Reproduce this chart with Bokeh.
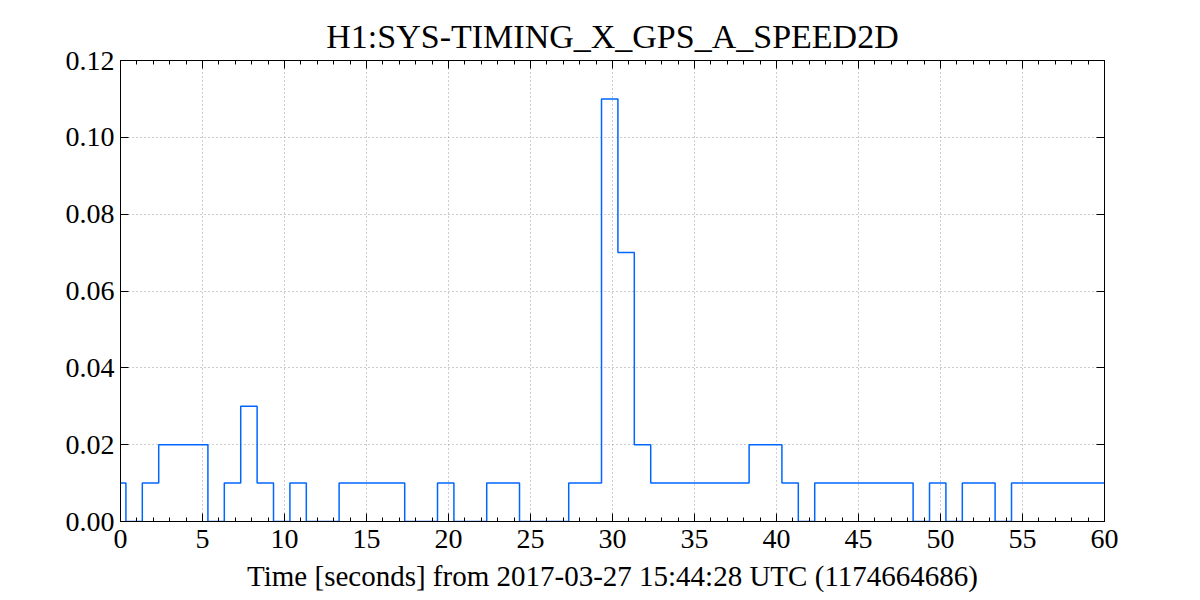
from bokeh.plotting import figure
from bokeh.models import (Range1d, FixedTicker, PrintfTickFormatter, LinearAxis, Title,
                          CustomLabelingPolicy)
from bokeh.embed import file_html
from bokeh.resources import INLINE

# ---- data ----
title_text = "H1:SYS-TIMING_X_GPS_A_SPEED2D"
xlabel_text = "Time [seconds] from 2017-03-27 15:44:28 UTC (1174664686)"
sample_offset = 0.33  # seconds: value changes occur at k + offset
speed = [0.01, 0.00, 0.01, 0.02, 0.02, 0.02, 0.00, 0.01, 0.03, 0.01,
         0.00, 0.01, 0.00, 0.00, 0.01, 0.01, 0.01, 0.01, 0.00, 0.00,
         0.01, 0.00, 0.00, 0.01, 0.01, 0.00, 0.00, 0.00, 0.01, 0.01,
         0.11, 0.07, 0.02, 0.01, 0.01, 0.01, 0.01, 0.01, 0.01, 0.02,
         0.02, 0.01, 0.00, 0.01, 0.01, 0.01, 0.01, 0.01, 0.01, 0.00,
         0.01, 0.00, 0.01, 0.01, 0.00, 0.01, 0.01, 0.01, 0.01, 0.01,
         0.01]
x_ticks = [0, 5, 10, 15, 20, 25, 30, 35, 40, 45, 50, 55, 60]
x_minor = list(range(0, 61))
y_ticks = [0.00, 0.02, 0.04, 0.06, 0.08, 0.10, 0.12]

t_end = 60.0
xs = [0.0] + [k + sample_offset for k in range(len(speed) - 1)] + [t_end]
ys = speed + [speed[-1]]

FONT = "Liberation Serif"

p = figure(width=1200, height=600, frame_width=984, frame_height=461,
           output_backend="svg", toolbar_location=None,
           x_range=Range1d(0, 60), y_range=Range1d(0, 0.12),
           min_border_left=120, min_border_right=96,
           min_border_top=60, min_border_bottom=79)
p.title = None

p.step(xs, ys, mode="after", line_color="#0066ff", line_width=1.5)

p.outline_line_color = "black"
p.outline_line_width = 1
p.background_fill_color = "white"
p.border_fill_color = "white"

for ax in [p.xaxis[0], p.yaxis[0]]:
    ax.major_tick_in = 8
    ax.major_tick_out = 0
    ax.minor_tick_in = 4
    ax.minor_tick_out = 0
    ax.axis_line_color = "black"
    ax.major_tick_line_color = "black"
    ax.minor_tick_line_color = "black"
    ax.major_label_text_font = FONT
    ax.major_label_text_font_size = "28px"
    ax.major_label_text_color = "black"

p.xaxis[0].ticker = FixedTicker(ticks=x_ticks, minor_ticks=x_minor)
p.yaxis[0].ticker = FixedTicker(ticks=y_ticks, minor_ticks=[])
p.yaxis[0].formatter = PrintfTickFormatter(format="%.2f")
p.xaxis[0].major_label_standoff = 8
p.yaxis[0].major_label_standoff = 6
p.yaxis[0].major_label_orientation = "horizontal"

p.xaxis[0].axis_label = xlabel_text
p.xaxis[0].axis_label_text_font = FONT
p.xaxis[0].axis_label_text_font_size = "29px"
p.xaxis[0].axis_label_text_font_style = "normal"
p.xaxis[0].axis_label_text_color = "black"
p.xaxis[0].axis_label_standoff = 9

hide_all = CustomLabelingPolicy(code="""
try {
  const out = indices.clone();
  for (const i of Array.from(indices)) { out.unset(i); }
  return out;
} catch (e) {
  return indices;
}
""")

# mirrored top axis (ticks only, no labels)
top = LinearAxis(ticker=FixedTicker(ticks=x_ticks, minor_ticks=x_minor),
                 major_label_policy=hide_all, major_label_text_font_size="1px",
                 major_tick_in=8, major_tick_out=0,
                 minor_tick_in=4, minor_tick_out=0, major_label_standoff=0,
                 axis_line_color="black")
# mirrored right axis: tick marks drawn as minor ticks so no labels exist
right = LinearAxis(ticker=FixedTicker(ticks=[], minor_ticks=y_ticks),
                   major_tick_in=0, major_tick_out=0,
                   minor_tick_in=8, minor_tick_out=0, major_label_standoff=0,
                   axis_line_color="black")
p.add_layout(top, "above")
p.add_layout(right, "right")
p.add_layout(Title(text=title_text, align="center", text_font=FONT,
                   text_font_size="34px", text_font_style="normal",
                   text_color="black", standoff=4, offset=0), "above")

p.xgrid.ticker = FixedTicker(ticks=x_ticks)
p.ygrid.ticker = FixedTicker(ticks=y_ticks)
for g in [p.xgrid[0], p.ygrid[0]]:
    g.grid_line_color = "#9a9a9a"
    g.grid_line_dash = "1 3"
    g.grid_line_width = 1

open("out.html", "w").write(file_html(p, INLINE))
